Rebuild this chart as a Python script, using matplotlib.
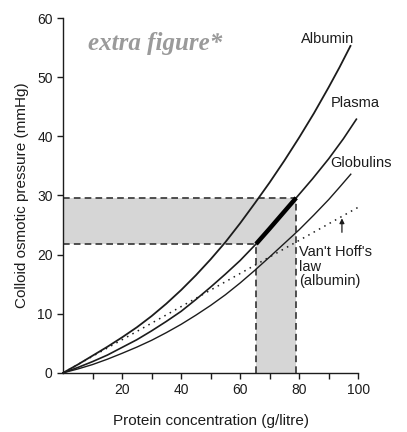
import matplotlib
matplotlib.use("Agg")
import matplotlib.pyplot as plt

# values (protein g/litre -> mmHg)
albumin_x = [0, 5, 10, 15, 20, 25, 30, 35, 40, 45, 50, 55, 60, 65, 70, 75, 80,
             85, 90, 93.7, 97.4]
albumin_y = [0, 1.4, 2.9, 4.4, 6.0, 7.7, 9.6, 11.7, 14.0, 16.5, 19.2, 22.1,
             25.3, 28.7, 32.2, 35.9, 39.8, 43.9, 48.3, 51.7, 55.3]

plasma_x = [0, 5, 10, 15, 20, 25, 30, 35, 40, 45, 50, 55, 60, 65.4, 70, 74.5,
            79, 84.5, 90, 95, 99.4]
plasma_y = [0, 0.9, 1.9, 3.0, 4.3, 5.6, 7.1, 8.7, 10.4, 12.4, 14.5, 16.7, 19.0,
            21.8, 24.4, 27.0, 29.6, 32.8, 36.2, 39.6, 42.9]

glob_x = [0, 5, 10, 15, 20, 25, 30, 35, 40, 45, 50, 55, 60, 65, 70, 75, 80, 85,
          90, 93.7, 97.5]
glob_y = [0, 0.65, 1.4, 2.3, 3.3, 4.35, 5.5, 6.8, 8.2, 9.75, 11.4, 13.2, 15.2,
          17.35, 19.6, 21.9, 24.2, 26.7, 29.3, 31.4, 33.6]

vanthoff_x = [0, 100]
vanthoff_y = [0, 28]

# normal plasma range
conc_lo, conc_hi = 65.4, 79
pres_lo, pres_hi = 21.8, 29.6

xticks = [10, 20, 30, 40, 50, 60, 70, 80, 90, 100]
xticklabels = ["", "20", "", "40", "", "60", "", "80", "", "100"]
yticks = [0, 10, 20, 30, 40, 50, 60]

plt.rcParams["font.family"] = ["Liberation Sans", "DejaVu Sans"]

fig = plt.figure(figsize=(4.07, 4.32), dpi=100)
ax = fig.add_axes([0.155, 0.137, 0.725, 0.821])
ink = "#1c1c1c"
shade = "#d6d6d6"

# shaded bands
ax.fill_between([0, conc_hi], pres_lo, pres_hi, color=shade, lw=0, zorder=1)
ax.fill_between([conc_lo, conc_hi], 0, pres_lo, color=shade, lw=0, zorder=1)

dash = dict(color="#333333", lw=1.2, ls=(0, (4, 2.5)), zorder=2)
ax.plot([0, conc_hi], [pres_hi, pres_hi], **dash)
ax.plot([0, conc_lo], [pres_lo, pres_lo], **dash)
ax.plot([conc_lo, conc_lo], [0, pres_lo], **dash)
ax.plot([conc_hi, conc_hi], [0, pres_hi], **dash)

ax.plot(albumin_x, albumin_y, color=ink, lw=1.3, zorder=3, clip_on=False)
ax.plot(plasma_x, plasma_y, color=ink, lw=1.2, zorder=3, clip_on=False)
ax.plot(glob_x, glob_y, color=ink, lw=1.0, zorder=3, clip_on=False)
ax.plot(vanthoff_x, vanthoff_y, color=ink, lw=1.1, ls=(0, (1, 3)), zorder=3,
        clip_on=False)

# thick normal-range segment on the plasma curve
seg = [(x, y) for x, y in zip(plasma_x, plasma_y) if conc_lo <= x <= conc_hi]
ax.plot([p[0] for p in seg], [p[1] for p in seg], color="black", lw=3.2,
        solid_capstyle="butt", zorder=4)

ax.text(89.5, 56.5, "Albumin", ha="center", va="center", fontsize=10.5, color=ink)
ax.text(99.1, 45.6, "Plasma", ha="center", va="center", fontsize=10.5, color=ink)
ax.text(100.8, 35.5, "Globulins", ha="center", va="center", fontsize=10.5, color=ink)
ax.text(80.1, 21.6, "Van't Hoff's\nlaw\n(albumin)", ha="left", va="top",
        fontsize=10.5, color=ink, linespacing=1.05)
ax.annotate("", xy=(94.5, 26.6), xytext=(94.5, 23.3),
            arrowprops=dict(arrowstyle="-|>", color=ink, lw=0.9,
                            mutation_scale=7))

ax.text(8.5, 54.6, "extra figure*", family="Liberation Serif", style="italic",
        weight="bold", fontsize=18, color="#9a9a9a")

ax.set_xlim(0, 100)
ax.set_ylim(0, 60)
ax.spines["top"].set_visible(False)
ax.spines["right"].set_visible(False)
for s in ("left", "bottom"):
    ax.spines[s].set_color(ink)
    ax.spines[s].set_linewidth(1.0)
ax.set_xticks(xticks)
ax.set_xticklabels(xticklabels)
ax.set_yticks(yticks)
ax.tick_params(direction="out", length=4, width=1, colors=ink, labelsize=10)
ax.set_xlabel("Protein concentration (g/litre)", fontsize=11, color=ink,
              labelpad=12)
ax.set_ylabel("Colloid osmotic pressure (mmHg)", fontsize=11, color=ink,
              labelpad=6)

fig.savefig("out.png", dpi=100)
